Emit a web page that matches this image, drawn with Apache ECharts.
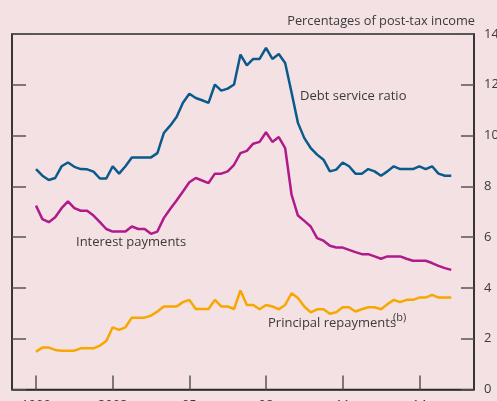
<!DOCTYPE html>
<html>
<head>
<meta charset="utf-8">
<script src="https://cdn.jsdelivr.net/npm/echarts@6/dist/echarts.min.js"></script>
<style>
  html, body { margin: 0; padding: 0; background: #f4e1e3; }
  #chart { width: 497px; height: 401px; }
</style>
</head>
<body>
<div id="chart"></div>
<script>
// quarterly data, 1999 Q1 to 2015 Q2
var startYear = 1999;
var debtService = [
  8.68, 8.42, 8.25, 8.33, 8.79, 8.94, 8.77, 8.68, 8.67, 8.58,
  8.31, 8.31, 8.79, 8.50, 8.79, 9.14, 9.14, 9.14, 9.14, 9.31,
  10.10, 10.39, 10.73, 11.29, 11.65, 11.48, 11.39, 11.29, 12.01, 11.77,
  11.85, 12.01, 13.19, 12.76, 13.02, 13.02, 13.45, 13.02, 13.21, 12.86,
  11.70, 10.50, 9.90, 9.51, 9.25, 9.05, 8.59, 8.66, 8.94, 8.79,
  8.50, 8.50, 8.68, 8.59, 8.42, 8.59, 8.79, 8.68, 8.68, 8.68,
  8.79, 8.68, 8.79, 8.50, 8.42, 8.42
];
var interestPayments = [
  7.24, 6.71, 6.59, 6.78, 7.14, 7.41, 7.14, 7.04, 7.04, 6.85,
  6.59, 6.32, 6.22, 6.22, 6.22, 6.42, 6.32, 6.32, 6.13, 6.22,
  6.75, 7.11, 7.44, 7.80, 8.16, 8.33, 8.23, 8.13, 8.50, 8.50,
  8.59, 8.85, 9.31, 9.40, 9.68, 9.75, 10.13, 9.75, 9.94, 9.51,
  7.67, 6.85, 6.64, 6.42, 5.96, 5.86, 5.66, 5.59, 5.59, 5.50,
  5.41, 5.33, 5.33, 5.24, 5.15, 5.24, 5.24, 5.24, 5.15, 5.07,
  5.07, 5.07, 4.98, 4.87, 4.78, 4.71
];
var principalRepayments = [
  1.49, 1.65, 1.65, 1.56, 1.53, 1.53, 1.53, 1.62, 1.62, 1.62,
  1.73, 1.91, 2.45, 2.35, 2.45, 2.83, 2.83, 2.83, 2.91, 3.07,
  3.27, 3.27, 3.27, 3.44, 3.53, 3.17, 3.17, 3.17, 3.53, 3.27,
  3.27, 3.17, 3.90, 3.33, 3.33, 3.16, 3.33, 3.27, 3.16, 3.33,
  3.79, 3.60, 3.27, 3.04, 3.16, 3.16, 2.98, 3.04, 3.24, 3.24,
  3.07, 3.16, 3.24, 3.24, 3.16, 3.36, 3.53, 3.44, 3.53, 3.53,
  3.62, 3.62, 3.73, 3.62, 3.62, 3.62
];
var yearTicks = [1999, 2002, 2005, 2008, 2011, 2014];

// quarter positions in decimal years
var quarters = debtService.map(function (v, i) { return startYear + i / 4; });
function pairs(vals) {
  return vals.map(function (v, i) { return [quarters[i], v]; });
}

var textColor = '#3a3a3a';
var font = '"Open Sans", "Noto Sans", sans-serif';

var chart = echarts.init(document.getElementById('chart'));
chart.setOption({
  backgroundColor: '#f4e1e3',
  animation: false,
  textStyle: { fontFamily: font },
  grid: {
    left: 12, right: 23, top: 34, bottom: 11.5,
    outerBoundsMode: 'none',
    show: true, borderColor: '#2b2b2b', borderWidth: 1.5,
    backgroundColor: 'transparent'
  },
  xAxis: {
    type: 'value',
    min: 1998.06,
    max: 2016.14,
    splitLine: { show: false },
    axisLine: { lineStyle: { color: '#2b2b2b', width: 1.5 } },
    axisTick: {
      inside: true, length: 14, customValues: yearTicks,
      lineStyle: { color: '#555', width: 1.5 }
    },
    axisLabel: {
      customValues: yearTicks, margin: 9, fontSize: 13, color: textColor,
      formatter: function (v) {
        return v < 2005 ? String(v) : String(v).slice(2);
      }
    }
  },
  yAxis: [{
    type: 'value', position: 'right', min: 0, max: 14, interval: 2,
    splitLine: { show: false },
    axisLine: { show: true, lineStyle: { color: '#2b2b2b', width: 1.5 } },
    axisTick: { show: true, inside: true, length: 13, lineStyle: { color: '#555', width: 1.5 } },
    axisLabel: { margin: 10, fontSize: 13, color: textColor }
  }, {
    type: 'value', position: 'left', min: 0, max: 14, interval: 2,
    splitLine: { show: false },
    axisLine: { show: true, lineStyle: { color: '#2b2b2b', width: 1.5 } },
    axisTick: { show: true, inside: true, length: 14, lineStyle: { color: '#555', width: 1.5 } },
    axisLabel: { show: false }
  }],
  series: [{
    name: 'Debt service ratio', type: 'line', yAxisIndex: 0,
    data: pairs(debtService), showSymbol: false,
    lineStyle: { color: '#0a5a8c', width: 2.5 }
  }, {
    name: 'Interest payments', type: 'line', yAxisIndex: 0,
    data: pairs(interestPayments), showSymbol: false,
    lineStyle: { color: '#b01a8a', width: 2.5 }
  }, {
    name: 'Principal repayments', type: 'line', yAxisIndex: 0,
    data: pairs(principalRepayments), showSymbol: false,
    lineStyle: { color: '#f7a700', width: 2.5 }
  }],
  graphic: [
    { type: 'text', right: 22, top: 15,
      style: { text: 'Percentages of post-tax income', fill: textColor, font: '12.8px ' + font } },
    { type: 'text', left: 300, top: 90,
      style: { text: 'Debt service ratio', fill: textColor, font: '13px ' + font } },
    { type: 'text', left: 76, top: 236,
      style: { text: 'Interest payments', fill: textColor, font: '13px ' + font } },
    { type: 'text', left: 268, top: 317,
      style: { text: 'Principal repayments', fill: textColor, font: '13px ' + font } },
    { type: 'text', left: 393, top: 312,
      style: { text: '(b)', fill: textColor, font: '11px ' + font } }
  ]
});
</script>
</body>
</html>
